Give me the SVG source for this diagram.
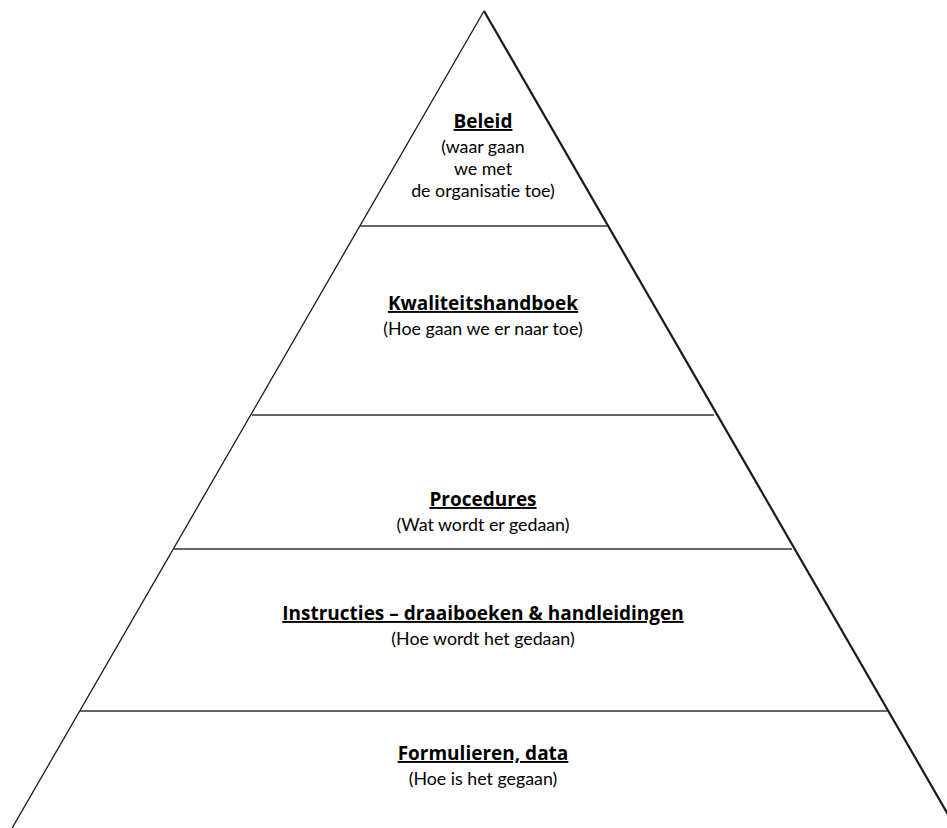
<svg xmlns="http://www.w3.org/2000/svg" width="947" height="828" viewBox="0 0 947 828">
<style>
.edge{stroke:#1a1a1a;fill:none}
.div{stroke:#333;stroke-width:1.4;fill:none}
.t{font-family:Lato,"Liberation Sans",sans-serif;font-size:17.8px;fill:#000;text-anchor:middle;font-variant-ligatures:none}
.h{font-family:"Open Sans","Liberation Sans",sans-serif;font-size:19px;font-weight:bold;text-decoration:underline}
</style>
<rect width="947" height="828" fill="#fff"/>
<g id="connectors">
<line class="edge" x1="484" y1="11" x2="11" y2="830" stroke-width="1.3"/>
<line class="edge" x1="484" y1="11" x2="957" y2="830" stroke-width="2.2"/>
<line class="div" x1="360" y1="226" x2="607" y2="226"/>
<line class="div" x1="252" y1="415" x2="714" y2="415"/>
<line class="div" x1="174" y1="549" x2="792" y2="549"/>
<line class="div" x1="80" y1="711" x2="887" y2="711"/>
</g>
<g id="beleid">
<text class="t h" x="483" y="128">Beleid</text>
<text class="t" x="483" y="153">(waar gaan</text>
<text class="t" x="483" y="175">we met</text>
<text class="t" x="483" y="197">de organisatie toe)</text>
</g>
<g id="kwaliteitshandboek">
<text class="t h" x="483" y="310">Kwaliteitshandboek</text>
<text class="t" x="483" y="335">(Hoe gaan we er naar toe)</text>
</g>
<g id="procedures">
<text class="t h" x="483" y="506">Procedures</text>
<text class="t" x="483" y="531">(Wat wordt er gedaan)</text>
</g>
<g id="instructies">
<text class="t h" x="483" y="620">Instructies – draaiboeken &amp; handleidingen</text>
<text class="t" x="483" y="645">(Hoe wordt het gedaan)</text>
</g>
<g id="formulieren">
<text class="t h" x="483" y="760">Formulieren, data</text>
<text class="t" x="483" y="785">(Hoe is het gegaan)</text>
</g>
</svg>
